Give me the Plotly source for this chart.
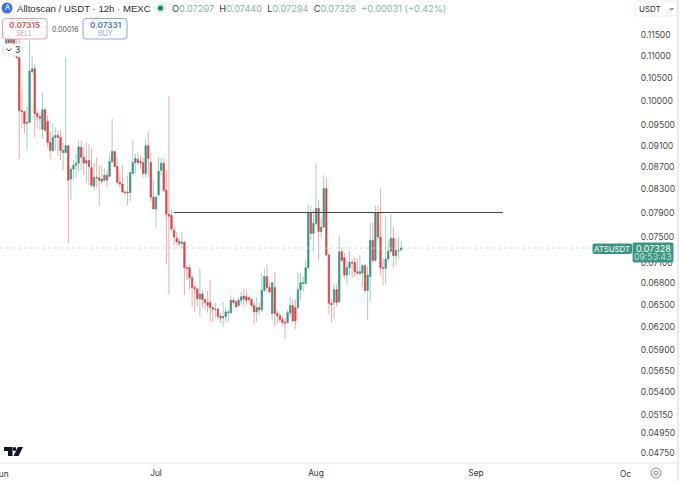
import numpy as np
import pandas as pd
import plotly.graph_objects as go

opens = [0.1126,0.1150,0.1131,0.1145,0.1126,0.1096,0.0980,0.0978,0.0954,0.0956,
0.1064,0.1071,0.0974,0.0968,0.0942,0.0982,0.0958,0.0916,0.0901,0.0926,
0.0930,0.0926,0.0897,0.0897,0.0910,0.0848,0.0866,0.0873,0.0877,0.0907,
0.0888,0.0877,0.0882,0.0869,0.0835,0.0851,0.0850,0.0848,0.0846,0.0855,
0.0853,0.0880,0.0899,0.0871,0.0842,0.0839,0.0825,0.0825,0.0824,0.0858,
0.0878,0.0884,0.0880,0.0878,0.0858,0.0910,0.0878,0.0816,0.0796,0.0820,
0.0864,0.0877,0.0828,0.0787,0.0785,0.0761,0.0748,0.0743,0.0740,0.0742,
0.0703,0.0703,0.0688,0.0674,0.0672,0.0658,0.0665,0.0657,0.0653,0.0653,
0.0646,0.0643,0.0644,0.0634,0.0632,0.0634,0.0639,0.0639,0.0656,0.0654,
0.0649,0.0656,0.0662,0.0661,0.0660,0.0657,0.0649,0.0640,0.0646,0.0643,
0.0670,0.0690,0.0674,0.0638,0.0674,0.0638,0.0635,0.0630,0.0626,0.0626,
0.0639,0.0649,0.0646,0.0646,0.0671,0.0680,0.0680,0.0703,0.0789,0.0756,
0.0772,0.0797,0.0759,0.0766,0.0831,0.0722,0.0652,0.0653,0.0671,0.0654,
0.0727,0.0718,0.0692,0.0703,0.0711,0.0711,0.0697,0.0694,0.0695,0.0706,
0.0670,0.0690,0.0745,0.0714,0.0790,0.0750,0.0703,0.0702,0.0716,0.0728,
0.0748,0.0721,0.0729,0.07297]
highs = [0.1165,0.1160,0.1160,0.1160,0.1141,0.1141,0.1026,0.0980,0.0990,0.1136,
0.1100,0.1082,0.0980,0.0976,0.1018,0.0986,0.0970,0.0936,0.0954,0.0946,
0.0940,0.0940,0.0916,0.1096,0.0910,0.0871,0.0882,0.0895,0.0920,0.0920,
0.0907,0.0916,0.0914,0.0905,0.0878,0.0888,0.0873,0.0873,0.0867,0.0864,
0.0895,0.0964,0.0899,0.0886,0.0858,0.0873,0.0828,0.0855,0.0860,0.0920,
0.0895,0.0897,0.0891,0.0888,0.0924,0.0938,0.0897,0.0846,0.0820,0.0888,
0.0886,0.0886,0.0864,0.1011,0.0794,0.0769,0.0758,0.0748,0.0758,0.0743,
0.0707,0.0707,0.0692,0.0678,0.0674,0.0702,0.0671,0.0658,0.0669,0.0685,
0.0650,0.0653,0.0646,0.0639,0.0654,0.0646,0.0643,0.0663,0.0660,0.0657,
0.0660,0.0668,0.0672,0.0671,0.0661,0.0660,0.0653,0.0660,0.0653,0.0694,
0.0702,0.0708,0.0681,0.0682,0.0696,0.0642,0.0639,0.0634,0.0632,0.0643,
0.0661,0.0657,0.0657,0.0696,0.0695,0.0690,0.0714,0.0804,0.0802,0.0794,
0.0876,0.0811,0.0782,0.0855,0.0851,0.0725,0.0657,0.0680,0.0680,0.0752,
0.0734,0.0725,0.0714,0.0728,0.0717,0.0719,0.0717,0.0722,0.0708,0.0708,
0.0705,0.0773,0.0773,0.0802,0.0802,0.0831,0.0717,0.0785,0.0745,0.0787,
0.0766,0.0748,0.0750,0.07440]
lows = [0.1117,0.1121,0.1124,0.1121,0.1094,0.0885,0.0944,0.0934,0.0901,0.0954,
0.1062,0.0926,0.0944,0.0940,0.0924,0.0938,0.0907,0.0885,0.0897,0.0901,
0.0891,0.0882,0.0864,0.0895,0.0740,0.0811,0.0846,0.0850,0.0860,0.0864,
0.0855,0.0842,0.0837,0.0833,0.0828,0.0833,0.0801,0.0840,0.0842,0.0833,
0.0850,0.0878,0.0871,0.0840,0.0833,0.0824,0.0821,0.0802,0.0808,0.0858,
0.0858,0.0873,0.0867,0.0851,0.0851,0.0851,0.0808,0.0796,0.0766,0.0816,
0.0855,0.0825,0.0708,0.0664,0.0759,0.0737,0.0737,0.0735,0.0733,0.0663,
0.0685,0.0671,0.0647,0.0640,0.0647,0.0634,0.0646,0.0643,0.0639,0.0627,
0.0626,0.0632,0.0630,0.0625,0.0620,0.0626,0.0627,0.0638,0.0650,0.0646,
0.0647,0.0650,0.0647,0.0650,0.0654,0.0646,0.0623,0.0627,0.0636,0.0640,
0.0668,0.0668,0.0665,0.0630,0.0621,0.0625,0.0626,0.0623,0.0605,0.0625,
0.0634,0.0627,0.0617,0.0643,0.0657,0.0668,0.0679,0.0703,0.0745,0.0727,
0.0769,0.0714,0.0748,0.0765,0.0722,0.0637,0.0626,0.0630,0.0647,0.0653,
0.0711,0.0688,0.0677,0.0692,0.0688,0.0690,0.0692,0.0692,0.0675,0.0667,
0.0630,0.0654,0.0711,0.0711,0.0745,0.0692,0.0677,0.0679,0.0711,0.0725,
0.0703,0.0707,0.0716,0.07294]
closes = [0.1150,0.1131,0.1145,0.1126,0.1096,0.0980,0.0978,0.0954,0.0956,0.1066,
0.1071,0.0974,0.0968,0.0964,0.0982,0.0940,0.0916,0.0901,0.0926,0.0930,
0.0926,0.0901,0.0901,0.0910,0.0846,0.0866,0.0873,0.0877,0.0908,0.0888,
0.0877,0.0882,0.0871,0.0837,0.0851,0.0850,0.0846,0.0844,0.0855,0.0846,
0.0880,0.0899,0.0871,0.0842,0.0839,0.0825,0.0824,0.0824,0.0860,0.0878,
0.0886,0.0878,0.0878,0.0858,0.0910,0.0886,0.0816,0.0796,0.0816,0.0862,
0.0877,0.0828,0.0787,0.0784,0.0763,0.0750,0.0743,0.0740,0.0742,0.0703,
0.0702,0.0688,0.0674,0.0672,0.0658,0.0665,0.0657,0.0653,0.0649,0.0646,
0.0644,0.0644,0.0634,0.0632,0.0634,0.0640,0.0640,0.0656,0.0653,0.0647,
0.0656,0.0661,0.0658,0.0656,0.0657,0.0649,0.0640,0.0646,0.0643,0.0670,
0.0690,0.0674,0.0668,0.0681,0.0638,0.0635,0.0630,0.0626,0.0625,0.0639,
0.0649,0.0628,0.0628,0.0671,0.0681,0.0681,0.0703,0.0789,0.0756,0.0772,
0.0797,0.0759,0.0766,0.0831,0.0722,0.0652,0.0650,0.0671,0.0653,0.0727,
0.0714,0.0692,0.0703,0.0711,0.0710,0.0697,0.0695,0.0697,0.0706,0.0670,
0.0692,0.0745,0.0714,0.0790,0.0750,0.0703,0.0702,0.0716,0.0728,0.0748,
0.0721,0.0729,0.0729,0.07328]
last_candle = "2025-08-17 12:00"
level_price = 0.0790
level_start, level_end = "2025-07-04 12:00", "2025-09-06 05:00"
last_price = 0.07328
y_ticks = [0.115,0.11,0.105,0.1,0.095,0.091,0.087,0.083,0.079,0.075,0.071,0.068,0.065,0.062,0.059,0.0565,0.054,0.0515,0.0495,0.0475]
x_tick_dates = ["2025-07-01","2025-08-01","2025-09-01"]
x_tick_text = ["Jul","Aug","Sep"]

RED, GREEN = "#d8444c", "#3c9582"
RED_W, GREEN_W = "#f3aaac", "#a3cfc5"
FONT = "Inter"
HFONT = "Liberation Sans"
W, H, PW, PH = 680, 481, 632, 463
X = lambda p: p / PW
Y = lambda p: 1 - p / PH

dates = pd.date_range(end=last_candle, periods=len(opens), freq="12h")
o, c = np.array(opens), np.array(closes)

fig = go.Figure()
fig.add_trace(go.Candlestick(x=dates, open=opens, high=highs, low=lows, close=closes,
    increasing=dict(line=dict(color=GREEN_W, width=1), fillcolor=GREEN_W),
    decreasing=dict(line=dict(color=RED_W, width=1), fillcolor=RED_W), hoverinfo="skip"))
fig.add_trace(go.Candlestick(x=dates, open=opens, high=np.maximum(o, c), low=np.minimum(o, c), close=closes,
    increasing=dict(line=dict(color=GREEN, width=0.5), fillcolor=GREEN),
    decreasing=dict(line=dict(color=RED, width=0.5), fillcolor=RED), hoverinfo="skip"))
fig.add_trace(go.Scatter(x=[level_start, level_end], y=[level_price, level_price], mode="lines",
    line=dict(color="#444444", width=1), hoverinfo="skip"))
fig.add_trace(go.Scatter(x=["2025-05-31 18:30", "2025-09-24"], y=[last_price, last_price], mode="lines",
    line=dict(color="#b5dcd3", width=0.9, dash="dot"), hoverinfo="skip"))

shapes, ann = [], []
def text(px, py, s, size=9.5, color="#222222", anchor="left", family=FONT):
    ann.append(dict(xref="paper", yref="paper", x=X(px), y=Y(py), text=s, showarrow=False, xanchor=anchor,
                    yanchor="middle", font=dict(family=family, size=size, color=color), borderpad=0))
def rbox(x0, y0, x1, y1, r, fill, line=None, lw=1):
    a, b, e, f = X(x0), Y(y0), X(x1), Y(y1)
    rx, ry = r / PW, r / PH
    path = (f"M {a+rx} {b} L {e-rx} {b} Q {e} {b} {e} {b-ry} L {e} {f+ry} Q {e} {f} {e-rx} {f} "
            f"L {a+rx} {f} Q {a} {f} {a} {f+ry} L {a} {b-ry} Q {a} {b} {a+rx} {b} Z")
    shapes.append(dict(type="path", xref="paper", yref="paper", path=path, fillcolor=fill,
                       line=dict(color=line or fill, width=lw), layer="above"))
def poly(pts, fill=None, line=None, lw=1):
    path = "M " + " L ".join(f"{X(a)} {Y(b)}" for a, b in pts) + (" Z" if fill else "")
    shapes.append(dict(type="path", xref="paper", yref="paper", path=path, fillcolor=fill or "rgba(0,0,0,0)",
                       line=dict(color=line or "rgba(0,0,0,0)", width=lw), layer="above"))
def circle(cx, cy, r, fill, line=None, lw=1):
    shapes.append(dict(type="circle", xref="paper", yref="paper", x0=X(cx-r), x1=X(cx+r), y0=Y(cy+r), y1=Y(cy-r),
                       fillcolor=fill, line=dict(color=line or "rgba(0,0,0,0)", width=lw), layer="above"))

# frame lines
poly([(0, 463), (679, 463)], line="#ececec", lw=1.5)
poly([(678, 0), (678, 481)], line="#e4e4e4", lw=1.5)

# header
circle(7, 8, 5.5, "#3f6fe0")
text(7, 8, "A", 7.5, "#ffffff", "center")
text(16, 8.5, "Alltoscan / USDT · 12h · MEXC", 9.6, "#2a2e39", family=HFONT)
circle(160.5, 8, 5, "#dcefe9")
circle(160.5, 8, 2.6, "#2f7d6b")
V = "#7fb8aa"; D = "#3a3f4a"
text(171, 8.5, f'O<span style="color:{V}">0.07297</span>  H<span style="color:{V}">0.07440</span>  '
     f'L<span style="color:{V}">0.07294</span>  C<span style="color:{V}">0.07328</span>  '
     f'<span style="color:{V}">+0.00031 (+0.42%)</span>', 9.2, D)

# sell / buy
rbox(2.5, 18.5, 47, 39, 3, "#ffffff", "#e9a3a6")
text(24.7, 24.5, "<b>0.07315</b>", 8, "#e0666b", "center")
text(24.7, 33.5, "SELL", 7, "#ea9497", "center")
text(65, 29, "0.00016", 7, "#555555", "center")
rbox(83, 18.5, 127, 39, 3, "#ffffff", "#8ea6ea")
text(105, 24.5, "<b>0.07331</b>", 8, "#5f7fe0", "center")
text(105, 33.5, "BUY", 7, "#90a5e8", "center")
rbox(3, 44, 22.5, 56, 2, "#ffffff", "#f0f0f0")
poly([(6.5, 48.5), (9, 51), (11.5, 48.5)], line="#333333", lw=1)
text(17, 50, "3", 8.5, "#333333", "center")

# usdt dropdown
rbox(635, 1, 677, 16, 2, "#ffffff", "#eeeeee")
text(637.5, 9, "USDT", 8, "#333333")
poly([(670, 8), (671.7, 10), (673.4, 8)], line="#444444", lw=1)

# last price tags
rbox(593, 244, 631.5, 253.5, 1, GREEN)
text(612.2, 248.8, "ATSUSDT", 7.8, "#ffffff", "center")
rbox(633, 243, 673, 262, 1, GREEN)
text(653, 248.3, "0.07328", 9, "#ffffff", "center")
text(653, 257.3, "09:53:43", 8.7, "#bfe0d8", "center")

# logo
poly([(4, 447), (12.5, 447), (12.5, 456), (8, 456), (8, 451), (4, 451)], fill="#131722")
circle(14.5, 449, 1.9, "#131722")
poly([(18, 447), (23, 447), (18.5, 456), (13.5, 456)], fill="#131722")

# month labels clipped by the chart's edges, and the gear
text(1, 473.5, "Jun", 8.3, "#333333", "center")
text(632, 473.5, "Oc", 8.3, "#333333", "right")
circle(656, 473, 5, "#ffffff", "#777777", 0.9)
circle(656, 473, 2, "#ffffff", "#777777", 0.9)

fig.update_layout(width=W, height=H, margin=dict(l=0, r=W-PW, t=0, b=H-PH), showlegend=False,
    paper_bgcolor="#ffffff", plot_bgcolor="#ffffff", font=dict(family=FONT), boxgap=0.28,
    shapes=shapes, annotations=ann,
    xaxis=dict(type="date", range=["2025-05-31 18:30", "2025-10-01 05:30"], rangeslider=dict(visible=False),
               showgrid=False, zeroline=False, showline=False, tickmode="array", tickvals=x_tick_dates,
               ticktext=x_tick_text, ticks="outside", ticklen=2, tickcolor="rgba(0,0,0,0)",
               tickfont=dict(family=FONT, size=8.3, color="#333333")),
    yaxis=dict(type="log", side="right", range=[np.log10(0.0464)+0.00092, np.log10(0.1236)+0.00092], showgrid=False,
               zeroline=False, showline=False, tickmode="array", tickvals=y_ticks,
               ticktext=[f"{v:.5f}" for v in y_ticks], ticks="outside", ticklen=6, tickcolor="rgba(0,0,0,0)",
               tickfont=dict(family=FONT, size=8.6, color="#4a4a4a")))

fig.write_html("out.html", config=dict(displayModeBar=False),
               post_script="document.body.style.margin='0';")
